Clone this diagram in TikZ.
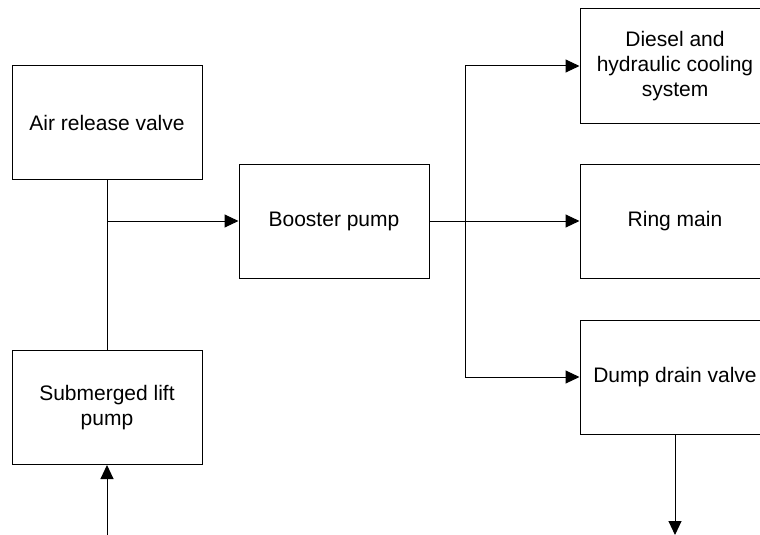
\documentclass[tikz,border=0pt]{standalone}
\usepackage{fontspec}
\setmainfont{Liberation Sans}
\usetikzlibrary{arrows.meta}

\tikzset{
    block/.style={draw,rectangle,line width=1pt,minimum width=190pt,minimum height=114pt,
        inner sep=0pt,align=center,font=\fontsize{21}{25}\selectfont},
    flow/.style={line width=1pt,-{Triangle[length=14pt,width=13pt]}},
    plain/.style={line width=1pt}
}

\begin{document}
\begin{tikzpicture}[x=1pt,y=-1pt]
        \useasboundingbox (0,0) rectangle (760,535);

        % blocks
        \node[block] (air)    at (107,122.5) {Air release valve};
        \node[block] (lift)   at (107,407.5) {Submerged lift\\pump};
        \node[block] (boost)  at (334,221)   {Booster pump};
        \node[block] (diesel) at (675,66)    {Diesel and\\hydraulic cooling\\system};
        \node[block] (ring)   at (675,221)   {Ring main};
        \node[block] (dump)   at (675,377)   {Dump drain valve};

        % free ends and junctions
        \coordinate (inlet)  at (107,535);
        \coordinate (outlet) at (675,535);
        \coordinate (tee)    at (107,221);
        \coordinate (split)  at (465,221);

        \draw[plain] (air.south) -- (lift.north);
        \draw[flow] (tee) -- (boost.west);
        \draw[flow] (inlet) -- (lift.south);
        \draw[flow] (boost.east) -- (ring.west);
        \draw[flow] (split) |- (diesel.west);
        \draw[flow] (split) |- (dump.west);
        \draw[flow] (dump.south) -- (outlet);

    \end{tikzpicture}
\end{document}
